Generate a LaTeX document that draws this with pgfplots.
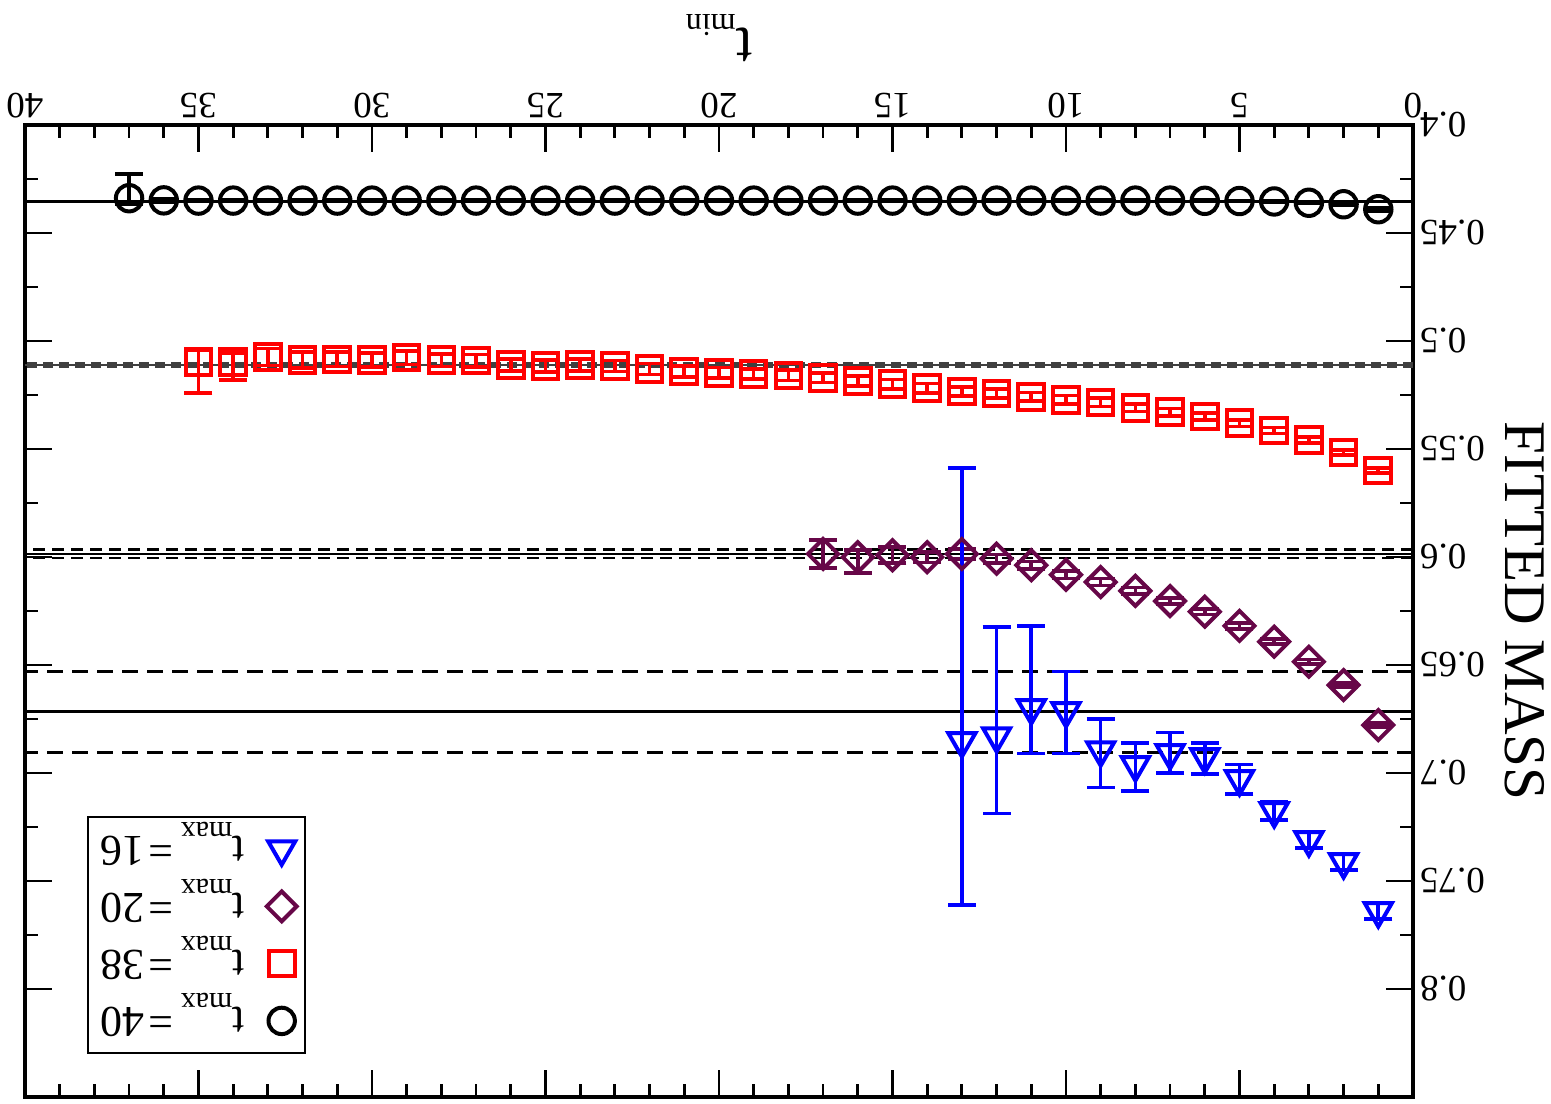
\documentclass[border=0pt]{standalone}
\usepackage{pgfplots}
\pgfplotsset{compat=1.18}
\usepackage{fontspec}
\setmainfont{Liberation Serif}
\definecolor{maroonx}{RGB}{103,7,72}
\newcommand{\lsub}[1]{\raisebox{-7pt}{\fontsize{15}{15}\selectfont #1}}
\newcommand{\lent}[1]{\hspace{9pt}t\lsub{max}\hspace{3.5pt}=\hspace{2.5pt}#1}
\begin{document}
\rotatebox{180}{%
\begin{tikzpicture}
\begin{axis}[
  width=694pt, height=486pt, scale only axis,
  xmin=0, xmax=40, ymin=0.4, ymax=0.85,
  xtick={0,5,10,15,20,25,30,35,40},
  xticklabels={0,5,10,15,20,25,30,35,40},
  minor x tick num=4,
  ytick={0.4,0.45,0.5,0.55,0.6,0.65,0.7,0.75,0.8},
  yticklabels={0.4,0.45,0.5,0.55,0.6,0.65,0.7,0.75,0.8},
  minor y tick num=1,
  tick align=inside,
  major tick length=13.5pt, minor tick length=6.5pt,
  tick style={black, line width=1.4pt},
  axis line style={line width=1.7pt},
  tick label style={font=\fontsize{18.5}{20}\selectfont},
  xlabel={t\raisebox{-7pt}{\fontsize{16}{16}\selectfont min}},
  ylabel={FITTED MASS},
  label style={font=\fontsize{29.5}{32}\selectfont},
  xlabel style={at={(axis description cs:0.5,-0.0895)}, anchor=center},
  ylabel style={at={(axis description cs:-0.0807,0.5)}, anchor=center},
  legend style={at={(0.9553,0.9558)}, anchor=north east, draw=black, line width=1pt,
    font=\fontsize{22}{26}\selectfont, row sep=8.5pt, inner xsep=4pt, inner ysep=6pt},
  legend cell align=left,
  error bars/y dir=both, error bars/y explicit,
  error bars/error bar style={line width=1.8pt},
  error bars/error mark options={rotate=90, line width=1.8pt, mark size=7pt},
]
% fit lines
\addplot[forget plot, black, line width=1.5pt] coordinates {(0,0.4352) (40,0.4352)};
\addplot[forget plot, black, line width=0.8pt, dash pattern=on 5pt off 3pt] coordinates {(0,0.4349) (40,0.4349)};
\addplot[forget plot, black, line width=0.8pt, dash pattern=on 5pt off 3pt] coordinates {(0,0.4355) (40,0.4355)};
\addplot[forget plot, black!75, line width=1pt] coordinates {(0,0.5113) (40,0.5113)};
\addplot[forget plot, black!75, line width=1pt, dash pattern=on 5pt off 3pt] coordinates {(0,0.5104) (40,0.5104)};
\addplot[forget plot, black!75, line width=1pt, dash pattern=on 5pt off 3pt] coordinates {(0,0.5122) (40,0.5122)};
\addplot[forget plot, black, line width=1.2pt] coordinates {(0,0.5986) (40,0.5986)};
\addplot[forget plot, black, line width=1.2pt, dash pattern=on 6pt off 3.5pt] coordinates {(0,0.5966) (40,0.5966)};
\addplot[forget plot, black, line width=1.2pt, dash pattern=on 6pt off 3.5pt] coordinates {(0,0.6006) (40,0.6006)};
\addplot[forget plot, black, line width=1.5pt] coordinates {(0,0.6716) (40,0.6716)};
\addplot[forget plot, black, line width=1.6pt, dash pattern=on 8pt off 4.5pt] coordinates {(0,0.6531) (40,0.6531)};
\addplot[forget plot, black, line width=1.6pt, dash pattern=on 8pt off 4.5pt] coordinates {(0,0.6904) (40,0.6904)};
% t_max = 40
\addplot[only marks, black, mark=o, mark size=6.6pt, mark options={line width=2pt}] coordinates {
(1,0.4390) +- (0,0.0008)
(2,0.4367) +- (0,0.0005)
(3,0.4360) +- (0,0.0004)
(4,0.4354) +- (0,0.0003)
(5,0.4352) +- (0,0.0003)
(6,0.4351) +- (0,0.0003)
(7,0.4350) +- (0,0.0003)
(8,0.4350) +- (0,0.0003)
(9,0.4350) +- (0,0.0003)
(10,0.4350) +- (0,0.0003)
(11,0.4350) +- (0,0.0003)
(12,0.4350) +- (0,0.0003)
(13,0.4350) +- (0,0.0003)
(14,0.4350) +- (0,0.0003)
(15,0.4350) +- (0,0.0003)
(16,0.4350) +- (0,0.0003)
(17,0.4350) +- (0,0.0003)
(18,0.4350) +- (0,0.0003)
(19,0.4350) +- (0,0.0003)
(20,0.4350) +- (0,0.0003)
(21,0.4350) +- (0,0.0003)
(22,0.4350) +- (0,0.0003)
(23,0.4350) +- (0,0.0003)
(24,0.4350) +- (0,0.0003)
(25,0.4350) +- (0,0.0003)
(26,0.4350) +- (0,0.0003)
(27,0.4350) +- (0,0.0003)
(28,0.4350) +- (0,0.0003)
(29,0.4350) +- (0,0.0003)
(30,0.4350) +- (0,0.0003)
(31,0.4350) +- (0,0.0003)
(32,0.4350) +- (0,0.0003)
(33,0.4350) +- (0,0.0003)
(34,0.4350) +- (0,0.0004)
(35,0.4350) +- (0,0.0005)
(36,0.4349) +- (0,0.0008)
(37,0.4339) += (0,0.0030) -= (0,0.0112)
};
\addlegendentry{\lent{40}}
% t_max = 38
\addplot[only marks, red, mark=square, mark size=6.4pt, mark options={line width=2pt}] coordinates {
(1,0.5600) +- (0,0.0012)
(2,0.5517) +- (0,0.0012)
(3,0.5458) +- (0,0.0013)
(4,0.5415) +- (0,0.0014)
(5,0.5381) +- (0,0.0015)
(6,0.5350) +- (0,0.0016)
(7,0.5329) +- (0,0.0017)
(8,0.5309) +- (0,0.0018)
(9,0.5284) +- (0,0.0019)
(10,0.5273) +- (0,0.0020)
(11,0.5258) +- (0,0.0020)
(12,0.5244) +- (0,0.0021)
(13,0.5233) +- (0,0.0021)
(14,0.5218) +- (0,0.0022)
(15,0.5200) +- (0,0.0022)
(16,0.5184) +- (0,0.0023)
(17,0.5170) +- (0,0.0023)
(18,0.5159) +- (0,0.0024)
(19,0.5153) +- (0,0.0024)
(20,0.5147) +- (0,0.0025)
(21,0.5142) +- (0,0.0025)
(22,0.5130) +- (0,0.0026)
(23,0.5116) +- (0,0.0026)
(24,0.5111) +- (0,0.0027)
(25,0.5116) +- (0,0.0027)
(26,0.5111) +- (0,0.0028)
(27,0.5091) +- (0,0.0029)
(28,0.5089) +- (0,0.0030)
(29,0.5077) +- (0,0.0031)
(30,0.5088) +- (0,0.0032)
(31,0.5085) +- (0,0.0034)
(32,0.5088) +- (0,0.0036)
(33,0.5074) +- (0,0.0040)
(34,0.5096) += (0,0.0085) -= (0,0.0040)
(35,0.5097) += (0,0.0144) -= (0,0.0055)
};
\addlegendentry{\lent{38}}
% t_max = 20
\addplot[only marks, maroonx, mark=square, mark size=5.3pt, mark options={rotate=45, line width=2pt}] coordinates {
(1,0.6778) +- (0,0.0010)
(2,0.6593) +- (0,0.0010)
(3,0.6485) +- (0,0.0011)
(4,0.6392) +- (0,0.0012)
(5,0.6319) +- (0,0.0013)
(6,0.6253) +- (0,0.0013)
(7,0.6204) +- (0,0.0014)
(8,0.6157) +- (0,0.0015)
(9,0.6116) +- (0,0.0016)
(10,0.6082) +- (0,0.0017)
(11,0.6038) +- (0,0.0018)
(12,0.6008) +- (0,0.0020)
(13,0.5986) +- (0,0.0022)
(14,0.6001) +- (0,0.0025)
(15,0.5992) +- (0,0.0037)
(16,0.6001) += (0,0.0074) -= (0,0.0034)
(17,0.5986) +- (0,0.0065)
};
\addlegendentry{\lent{20}}
% t_max = 16
\addplot[only marks, blue, mark=triangle, mark size=7.8pt, mark options={line width=2pt}] coordinates {
(1,0.7639) +- (0,0.0036)
(2,0.7412) +- (0,0.0037)
(3,0.7310) +- (0,0.0038)
(4,0.7176) +- (0,0.0042)
(5,0.7028) +- (0,0.0068)
(6,0.6926) += (0,0.0079) -= (0,0.0066)
(7,0.6907) +- (0,0.0094)
(8,0.6963) += (0,0.0119) -= (0,0.0101)
(9,0.6894) += (0,0.0174) -= (0,0.0144)
(10,0.6713) += (0,0.0196) -= (0,0.0182)
(11,0.6699) += (0,0.0210) -= (0,0.0380)
(12,0.6829) += (0,0.0358) -= (0,0.0506)
(13,0.6852) += (0,0.0759) -= (0,0.1264)
};
\addlegendentry{\lent{16}}
\end{axis}
\pgfresetboundingbox
\path ([shift={(-69pt,-62.5pt)}]current axis.south west) rectangle ([shift={(12.5pt,3.5pt)}]current axis.north east);
\end{tikzpicture}}
\end{document}
